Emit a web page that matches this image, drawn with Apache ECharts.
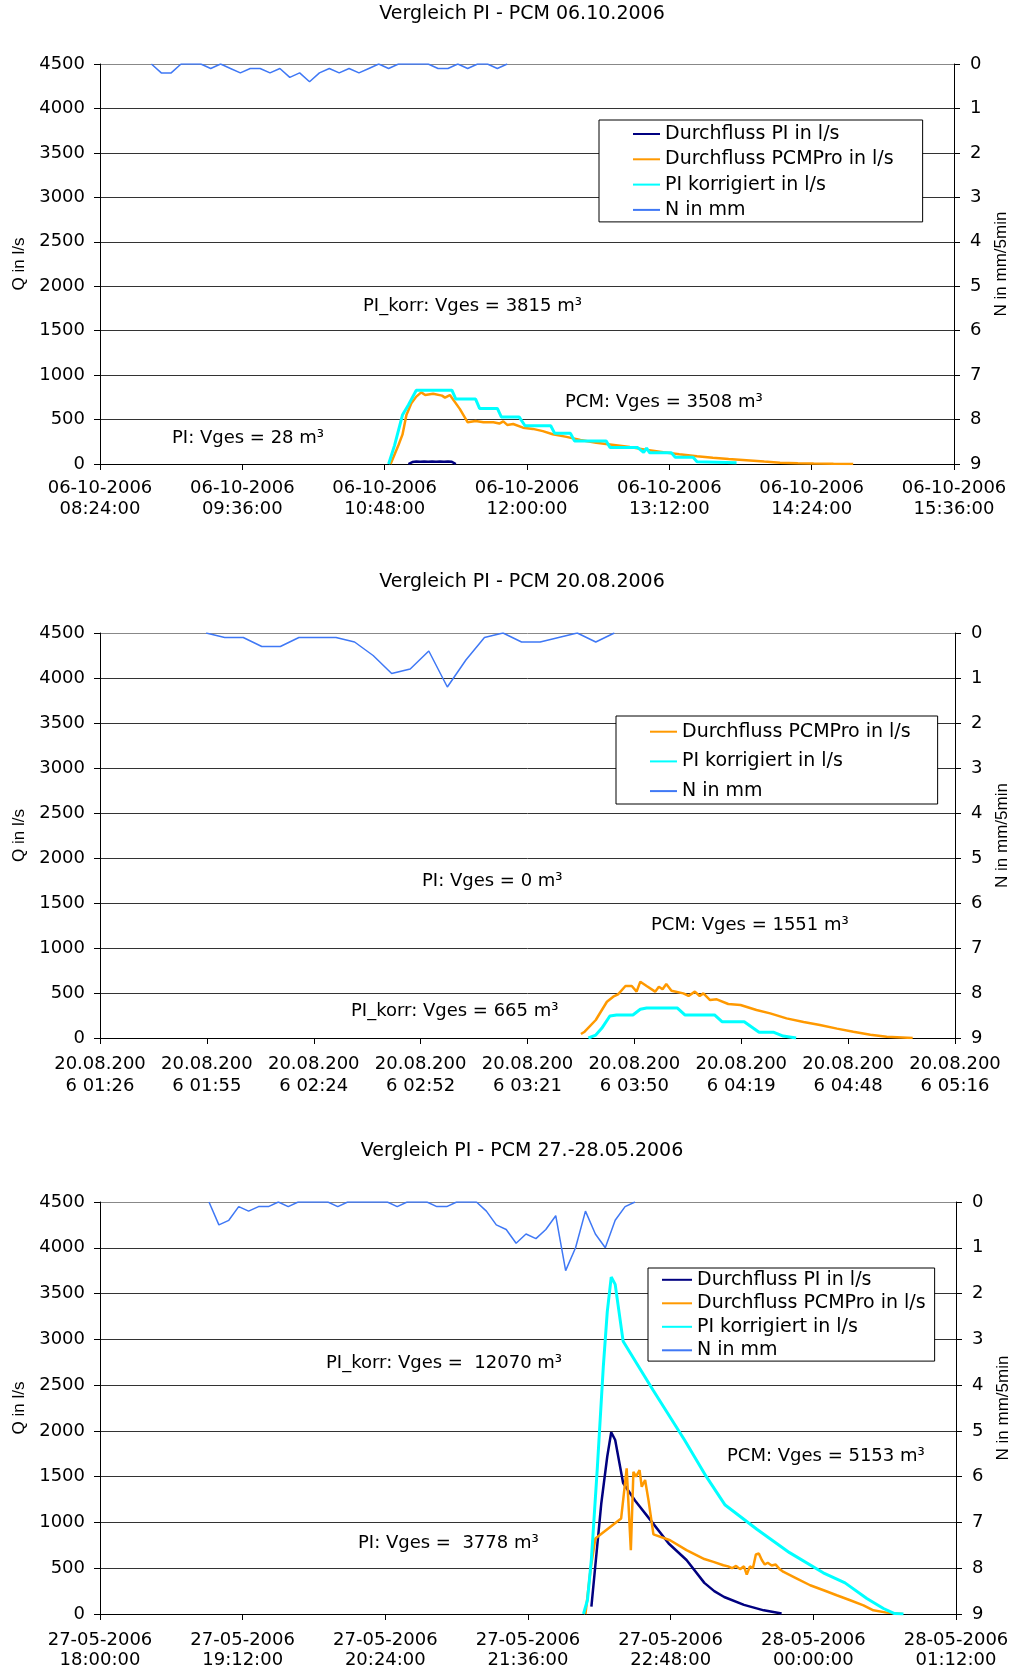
<!DOCTYPE html>
<html><head><meta charset="utf-8">
<script src="https://cdn.jsdelivr.net/npm/echarts@6/dist/echarts.min.js"></script>
<style>html,body{margin:0;padding:0;background:#fff}#c{width:1013px;height:1672px}</style>
</head><body><div id="c"></div>
<script>
// ---------- tick labels ----------
const c1XLabels = ['06-10-2006\n08:24:00','06-10-2006\n09:36:00','06-10-2006\n10:48:00','06-10-2006\n12:00:00','06-10-2006\n13:12:00','06-10-2006\n14:24:00','06-10-2006\n15:36:00'];
const c2XLabels = ['20.08.200\n6 01:26','20.08.200\n6 01:55','20.08.200\n6 02:24','20.08.200\n6 02:52','20.08.200\n6 03:21','20.08.200\n6 03:50','20.08.200\n6 04:19','20.08.200\n6 04:48','20.08.200\n6 05:16'];
const c3XLabels = ['27-05-2006\n18:00:00','27-05-2006\n19:12:00','27-05-2006\n20:24:00','27-05-2006\n21:36:00','27-05-2006\n22:48:00','28-05-2006\n00:00:00','28-05-2006\n01:12:00'];

const titles = ['Vergleich PI - PCM 06.10.2006','Vergleich PI - PCM 20.08.2006','Vergleich PI - PCM 27.-28.05.2006'];
const seriesNames = ['Durchfluss PI in l/s','Durchfluss PCMPro in l/s','PI korrigiert in l/s','N in mm'];

// ---------- chart 1 (minutes since 00:00 of 06.10.2006) ----------
const c1NTime = [530,535,540,545,550,555,560,565,570,575,580,585,590,595,600,605,610,615,620,625,630,635,640,645,650,655,660,665,670,675,680,685,690,695,700,705,710];
const c1N     = [0,0.2,0.2,0,0,0,0.1,0,0.1,0.2,0.1,0.1,0.2,0.1,0.3,0.2,0.4,0.2,0.1,0.2,0.1,0.2,0.1,0,0.1,0,0,0,0,0.1,0.1,0,0.1,0,0,0.1,0];
const c1PiTime = [660,662,664,666,668,670,672,674,676,678,680,682,684];
const c1Pi     = [0,22,28,24,28,25,28,24,27,25,28,24,0];
const c1PcmTime = [651,655,657,659,661.5,664,666.5,668.5,672.5,677,678.5,681,686,690,694,698,703,706,708,710,713,718,723,728,733,740,747,755,764,772,781,789,797,806,814,822,831,840,848,857,865,875,885];
const c1Pcm     = [0,214,330,551,683,758,806,776,790,769,747,776,620,469,484,470,469,455,480,440,450,409,395,370,334,305,270,240,214,190,158,132,109,88,71,55,41,27,15,9,5,2,0];
const c1KorrTime = [650,653,657,660,664,682,684,694,696,705,707,716,719,732,734,742,744,760,762,776,779,780.5,782,793,795,804,806,826];
const c1Korr     = [0,210,550,665,830,830,730,730,625,625,530,530,430,430,345,345,260,260,185,185,130,180,127,127,75,75,25,15];

// ---------- chart 2 (minutes since 00:00 of 20.08.2006) ----------
const c2NTime = [115,120,125,130,135,140,145,150,155,160,165,170,175,180,185,190,195,200,205,210,215,220,225];
const c2N     = [0,0.1,0.1,0.3,0.3,0.1,0.1,0.1,0.2,0.5,0.9,0.8,0.4,1.2,0.6,0.1,0,0.2,0.2,0.1,0,0.2,0];
const c2PcmTime = [216,217,220,223,224.7,226,228,229.7,231,232,233.7,236,237,238,239,240.4,243.6,245,246.7,248,249,250.8,252.6,255.7,259,263.3,267,271.4,276,280.4,285,289.4,294,298.4,305.4];
const c2Pcm     = [44,70,200,403,459,485,578,578,515,626,578,515,570,541,600,526,496,467,515,467,496,422,430,378,367,311,274,218,178,144,104,70,37,15,0];
const c2KorrTime = [218,220,221.6,223.8,225.6,230,232,233.7,242,244,252,254,260,264,268,270.5,274];
const c2Korr     = [0,33,107,244,256,256,319,333,333,256,256,181,181,63,63,22,0];

// ---------- chart 3 (minutes since 00:00 of 27.05.2006) ----------
const c3NTime = [1135,1140,1145,1150,1155,1160,1165,1170,1175,1180,1185,1190,1195,1200,1205,1210,1215,1220,1225,1230,1235,1240,1245,1250,1255,1260,1265,1270,1275,1280,1285,1290,1295,1300,1305,1310,1315,1320,1325,1330,1335,1340,1345,1350];
const c3N     = [0,0.5,0.4,0.1,0.2,0.1,0.1,0,0.1,0,0,0,0,0.1,0,0,0,0,0,0.1,0,0,0,0.1,0.1,0,0,0,0.2,0.5,0.6,0.9,0.7,0.8,0.6,0.3,1.5,1.0,0.2,0.7,1.0,0.4,0.1,0];
const c3PiTime = [1328,1333,1336,1338,1340,1344,1350,1358,1367,1376,1385,1390,1395,1405,1415,1424];
const c3Pi     = [80,1210,1720,1985,1900,1430,1240,1020,770,590,340,250,186,100,40,5];
const c3PcmTime = [1325,1327.7,1330,1343,1345.8,1347.9,1349.2,1350.5,1352.3,1353.4,1355.1,1356.8,1359.3,1367.7,1376,1385,1389.6,1394.6,1397,1399,1401,1403,1405,1406.4,1408,1409.5,1411,1412.5,1414,1415.5,1417,1419,1421,1423,1425,1431.7,1438.4,1445.2,1451.8,1458.6,1465.3,1470.3,1477,1485];
const c3Pcm     = [0,510,825,1044,1591,697,1554,1500,1572,1390,1463,1244,870,806,697,600,569,533,520,500,525,490,520,430,520,500,650,661,590,540,560,530,540,490,459,387,314,259,205,150,95,40,15,0];
const c3KorrTime = [1324,1326,1328,1331,1334,1336,1338,1340,1344,1359,1375,1386,1395.5,1411.5,1428,1445,1456,1467,1475.4,1481,1485.5];
const c3Korr     = [0,150,600,1600,2700,3300,3680,3600,2980,2450,1900,1500,1190,925,670,450,340,170,60,5,0];

// ---------- annotations ----------
const notes1 = ['PI_korr: Vges = 3815 m³','PCM: Vges = 3508 m³','PI: Vges = 28 m³'];
const notes2 = ['PI: Vges = 0 m³','PCM: Vges = 1551 m³','PI_korr: Vges = 665 m³'];
const notes3 = ['PI_korr: Vges =  12070 m³','PI: Vges =  3778 m³','PCM: Vges = 5153 m³'];

// ---------- build ----------
const zip = (t, v) => t.map((x, i) => [x, v[i]]);
const FONT = 'DejaVu Sans';
const colors = {pi:'#000080', pcm:'#ff9900', korr:'#00ffff', n:'#3f78f5'};
const widths = {pi:2.5, pcm:2.5, korr:3, n:1.5};

const panels = [
  {grid:{left:100, top:64, width:854, height:400}, xMin:504, xMax:936, xInt:72, labels:c1XLabels, lblMargin:14, lblLH:21,
   data:{pi:zip(c1PiTime,c1Pi), pcm:zip(c1PcmTime,c1Pcm), korr:zip(c1KorrTime,c1Korr), n:zip(c1NTime,c1N)},
   legend:{left:599, top:120, padding:[4,29,2,33], itemWidth:27, itemGap:5.3, lh:20, names:seriesNames},
   titleY:14, notes:notes1, notePos:[[363,306],[565,402],[172,438]]},
  {grid:{left:100, top:633, width:855, height:405}, xMin:86.4, xMax:316.8, xInt:28.8, labels:c2XLabels, lblMargin:15, lblLH:22,
   data:{pcm:zip(c2PcmTime,c2Pcm), korr:zip(c2KorrTime,c2Korr), n:zip(c2NTime,c2N)},
   legend:{left:616, top:716, padding:[5.7,27,2.9,33], itemWidth:27, itemGap:9.7, lh:20, names:seriesNames.slice(1)},
   titleY:582, notes:notes2, notePos:[[422,881],[651,925],[351,1011]]},
  {grid:{left:100, top:1202, width:856, height:412}, xMin:1080, xMax:1512, xInt:72, labels:c3XLabels, lblMargin:16, lblLH:20,
   data:{pi:zip(c3PiTime,c3Pi), pcm:zip(c3PcmTime,c3Pcm), korr:zip(c3KorrTime,c3Korr), n:zip(c3NTime,c3N)},
   legend:{left:648, top:1268, padding:[2.3,9,1.3,13], itemWidth:30, itemGap:4.5, lh:18, names:seriesNames},
   titleY:1151, notes:notes3, notePos:[[326,1363],[358,1543],[727,1456]]}
];

const option = {animation:false, backgroundColor:'#fff', textStyle:{fontFamily:FONT},
  grid:[], xAxis:[], yAxis:[], series:[], legend:[], graphic:[]};

const splitColors = ['#333','#333','#333','#333','#333','#333','#333','#333','#333','#888'];
const keys = ['pi','pcm','korr','n'];

panels.forEach((p, i) => {
  option.grid.push(Object.assign({containLabel:false, outerBoundsMode:'none'}, p.grid));
  option.xAxis.push({type:'value', gridIndex:i, min:p.xMin, max:p.xMax, interval:p.xInt,
    axisLine:{show:true, onZero:false, lineStyle:{color:'#000', width:1}},
    axisTick:{show:true, length:6, lineStyle:{color:'#000'}},
    axisLabel:{margin:p.lblMargin, lineHeight:p.lblLH, fontSize:18, color:'#000', fontFamily:FONT,
      showMinLabel:true, showMaxLabel:true,
      formatter:(v) => p.labels[Math.round((v - p.xMin) / p.xInt)] || ''},
    splitLine:{show:false}});
  option.yAxis.push({type:'value', gridIndex:i, min:0, max:4500, interval:500, position:'left',
    axisLine:{show:true, lineStyle:{color:'#000'}},
    axisTick:{show:true, length:6, lineStyle:{color:'#000'}},
    axisLabel:{margin:15, fontSize:18, color:'#000', fontFamily:FONT, formatter:(v) => String(v)},
    splitLine:{show:true, lineStyle:{color:splitColors, width:1}},
    name:'Q in l/s', nameLocation:'middle', nameGap:72, nameRotate:90,
    nameTextStyle:{fontFamily:'Liberation Sans', fontSize:17, color:'#000'}});
  option.yAxis.push({type:'value', gridIndex:i, min:0, max:9, interval:1, inverse:true, position:'right',
    axisLine:{show:true, lineStyle:{color:'#000'}},
    axisTick:{show:true, length:6, lineStyle:{color:'#000'}},
    axisLabel:{margin:16, fontSize:18, color:'#000', fontFamily:FONT, formatter:(v) => String(v)},
    splitLine:{show:false},
    name:'N in mm/5min', nameLocation:'middle', nameGap:37, nameRotate:90,
    nameTextStyle:{fontFamily:'Liberation Sans', fontSize:17, color:'#000'}});
  keys.forEach((k, j) => {
    if (!p.data[k]) return;
    option.series.push({type:'line', name:seriesNames[j], xAxisIndex:i, yAxisIndex: k === 'n' ? 2*i+1 : 2*i,
      data:p.data[k], symbol:'none', showSymbol:false, smooth:false, clip:true,
      lineStyle:{color:colors[k], width:widths[k]}, itemStyle:{color:colors[k]},
      emphasis:{disabled:true}, z: 2 + j});
  });
  const L = p.legend;
  option.legend.push({orient:'vertical', left:L.left, top:L.top, padding:L.padding,
    itemWidth:L.itemWidth, itemHeight:12, itemGap:L.itemGap, data:L.names,
    itemStyle:{opacity:0},
    backgroundColor:'#fff', borderColor:'#000', borderWidth:1, selectedMode:false,
    textStyle:{fontSize:19, color:'#000', fontFamily:FONT, lineHeight:L.lh}});
  option.graphic.push({type:'text', x:522, y:p.titleY,
    style:{text:titles[i], font:'19px "DejaVu Sans"', fill:'#000', align:'center', verticalAlign:'middle', textAlign:'center', textVerticalAlign:'middle'}});
  p.notes.forEach((t, j) => {
    option.graphic.push({type:'text', x:p.notePos[j][0], y:p.notePos[j][1], z:10,
      style:{text:t, font:'18px "DejaVu Sans"', fill:'#000', align:'left', verticalAlign:'middle', textAlign:'left', textVerticalAlign:'middle'}});
  });
});

const chart = echarts.init(document.getElementById('c'), null, {renderer:'canvas'});
chart.setOption(option);
</script>
</body></html>
